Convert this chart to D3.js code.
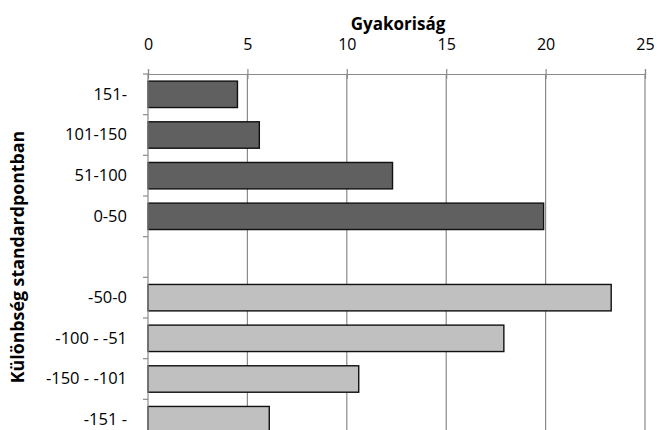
<!DOCTYPE html>
<html>
<head>
<meta charset="utf-8">
<script src="https://cdn.jsdelivr.net/npm/d3@7"></script>
<style>
  body { margin: 0; background: #fff; }
  text { font-family: "Open Sans", "DejaVu Sans", sans-serif; fill: #000; }
</style>
</head>
<body>
<script>
// data
const upperCats = ["151-", "101-150", "51-100", "0-50"];
const upperValues = [4.5, 5.6, 12.3, 19.9];
const gapCat = " ";
const lowerCats = ["-50-0", "-100 - -51", "-150 - -101", "-151 -"];
const lowerValues = [23.3, 17.9, 10.6, 6.1];
const xTicks = [0, 5, 10, 15, 20, 25];

const w = 657, h = 430;
const plotLeft = 148, plotRight = 645, plotTop = 74, plotBottom = 440;
const labelFont = "'Open Sans', sans-serif";

const rows = upperCats.map((c, i) => ({cat: c, v: upperValues[i], fill: "#606060"}))
  .concat(lowerCats.map((c, i) => ({cat: c, v: lowerValues[i], fill: "#c0c0c0"})));
const allCats = upperCats.concat([gapCat], lowerCats);

const svg = d3.select("body").append("svg")
  .attr("width", w).attr("height", h);

const x = d3.scaleLinear().domain([0, 25]).range([plotLeft, plotRight]);
const y = d3.scaleBand().domain(allCats).range([plotTop, plotBottom])
  .paddingInner(0.35).paddingOuter(0.175);

// vertical gridlines
svg.append("g").selectAll("line")
  .data(xTicks.slice(1))
  .enter().append("line")
  .attr("x1", d => x(d)).attr("x2", d => x(d))
  .attr("y1", plotTop).attr("y2", plotBottom)
  .attr("stroke", "#8a8a8a").attr("stroke-width", 1.2);

// bars
svg.append("g").selectAll("rect")
  .data(rows)
  .enter().append("rect")
  .attr("x", x(0))
  .attr("y", d => y(d.cat))
  .attr("width", d => x(d.v) - x(0))
  .attr("height", y.bandwidth())
  .attr("fill", d => d.fill)
  .attr("stroke", "#111")
  .attr("stroke-width", 1.4);

// top axis
const xAxis = d3.axisTop(x).tickValues(xTicks).tickSize(5).tickPadding(19);
const gx = svg.append("g").attr("transform", `translate(0,${plotTop})`).call(xAxis);
gx.select(".domain").attr("stroke", "#8a8a8a").attr("stroke-width", 1.2);
gx.selectAll(".tick line").attr("stroke", "#8a8a8a").attr("stroke-width", 1.2)
  .attr("y1", 5).attr("y2", -5);
gx.selectAll(".tick text").attr("font-size", 16).style("font-family", labelFont);

// left axis: labels centred on bands, ticks on band boundaries
const yAxis = d3.axisLeft(y).tickSize(0).tickPadding(21);
const gy = svg.append("g").attr("transform", `translate(${plotLeft},0)`).call(yAxis);
gy.select(".domain").remove();
gy.selectAll(".tick text").attr("font-size", 16.5).style("font-family", labelFont);

svg.append("line")
  .attr("x1", plotLeft).attr("x2", plotLeft).attr("y1", plotTop).attr("y2", plotBottom)
  .attr("stroke", "#8a8a8a").attr("stroke-width", 1.2);
svg.append("g").selectAll("line")
  .data(d3.range(allCats.length + 1))
  .enter().append("line")
  .attr("x1", plotLeft - 5).attr("x2", plotLeft)
  .attr("y1", i => plotTop + i * y.step()).attr("y2", i => plotTop + i * y.step())
  .attr("stroke", "#8a8a8a").attr("stroke-width", 1.2);

// titles
svg.append("text")
  .attr("x", 398).attr("y", 30)
  .attr("text-anchor", "middle")
  .attr("font-size", 17).attr("font-weight", "bold")
  .text("Gyakoriság");

svg.append("text")
  .attr("transform", "translate(24,257) rotate(-90)")
  .attr("text-anchor", "middle")
  .attr("font-size", 17.8).attr("font-weight", "bold")
  .text("Különbség standardpontban");
</script>
</body>
</html>
